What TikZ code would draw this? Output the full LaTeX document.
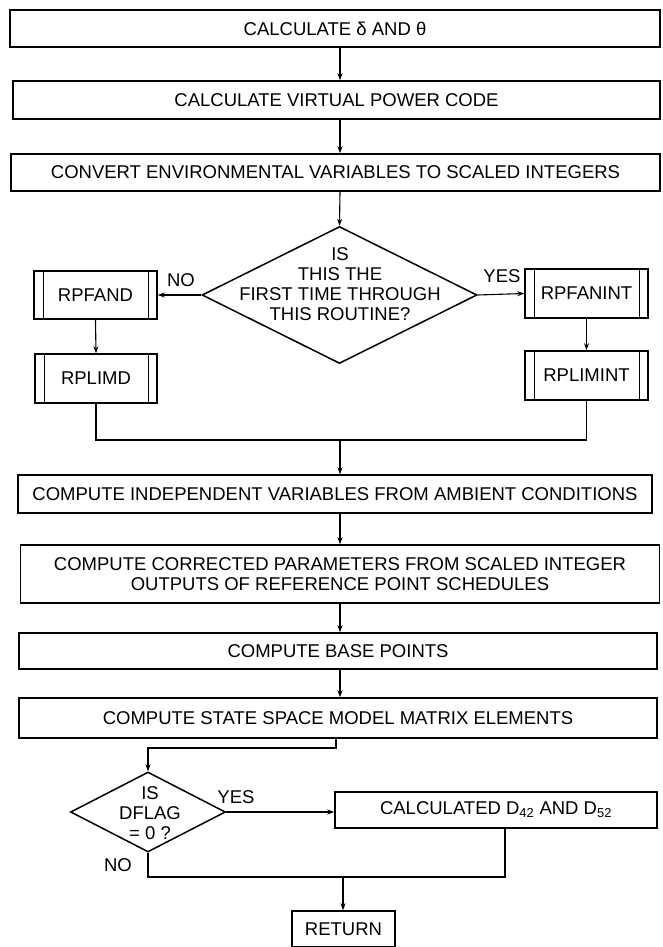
\documentclass[tikz,border=0pt]{standalone}
\usepackage{fontspec}
\setmainfont{Liberation Sans}
\usetikzlibrary{arrows.meta,shapes.geometric}
\begin{document}
\begin{tikzpicture}[x=1pt,y=-1pt,
  font=\fontsize{18.5}{20}\selectfont,
  box/.style={draw,line width=1.5pt,inner sep=0pt,align=center},
  decision/.style={draw,diamond,line width=1.5pt,inner sep=0pt},
  flow/.style={line width=1.1pt,-{Stealth[length=7pt,width=5pt]}},
  link/.style={line width=1.1pt},
  lbl/.style={inner sep=0pt,align=center}]
\useasboundingbox (0,0) rectangle (662,947);

% main column of process boxes
\node[box,minimum width=650pt,minimum height=37pt] (b1) at (335,28.5) {CALCULATE δ AND θ};
\node[box,minimum width=647pt,minimum height=38pt] (b2) at (336.5,100) {CALCULATE VIRTUAL POWER CODE};
\node[box,minimum width=649pt,minimum height=37pt] (b3) at (335.5,172.5) {CONVERT ENVIRONMENTAL VARIABLES TO SCALED INTEGERS};

% first decision
\node[decision,minimum width=275pt,minimum height=137pt] (d1) at (339.5,295) {};
\node[lbl] (q1) at (340,284) {IS\\THIS THE\\FIRST TIME THROUGH\\THIS ROUTINE?};
\node[lbl] (no1) at (181,280) {NO};
\node[lbl] (yes1) at (502,276) {YES};

% predefined subroutines
\node[box,minimum width=123pt,minimum height=48pt] (rfand) at (95.5,295) {RPFAND};
\node[box,minimum width=122pt,minimum height=49pt] (rlimd) at (96,378.5) {RPLIMD};
\node[box,minimum width=123pt,minimum height=49pt] (rfanint) at (586.5,293.5) {RPFANINT};
\node[box,minimum width=123pt,minimum height=49pt] (rlimint) at (586.5,375.5) {RPLIMINT};
\foreach \s in {rfand,rlimd,rfanint,rlimint}{
  \draw[line width=1.2pt] ([xshift=10pt]\s.north west) -- ([xshift=10pt]\s.south west);
  \draw[line width=1.2pt] ([xshift=-9pt]\s.north east) -- ([xshift=-9pt]\s.south east);
}

\node[box,minimum width=634pt,minimum height=38pt] (b4) at (335,494) {COMPUTE INDEPENDENT VARIABLES FROM AMBIENT CONDITIONS};
\node[box,minimum width=639pt,minimum height=58pt] (b5) at (340,574) {COMPUTE CORRECTED PARAMETERS FROM SCALED INTEGER\\OUTPUTS OF REFERENCE POINT SCHEDULES};
\node[box,minimum width=638pt,minimum height=36pt] (b6) at (338,651) {COMPUTE BASE POINTS};
\node[box,minimum width=638pt,minimum height=40pt] (b7) at (338,718) {COMPUTE STATE SPACE MODEL MATRIX ELEMENTS};

% second decision
\node[decision,minimum width=155pt,minimum height=80pt] (d2) at (148,812) {};
\node[lbl] (q2) at (150,813) {IS\\DFLAG\\= 0 ?};
\node[lbl] (yes2) at (236,797) {YES};
\node[lbl] (no2) at (118,865) {NO};
\node[box,minimum width=322pt,minimum height=36pt] (b8) at (496,810) {CALCULATED D\textsubscript{42} AND D\textsubscript{52}};
\node[box,minimum width=103pt,minimum height=36pt] (ret) at (343.5,929) {RETURN};

% connectors
\coordinate (axis) at (340,0);
\draw[flow] (b1.south -| axis) -- (b2.north -| axis);
\draw[flow] (b2.south -| axis) -- (b3.north -| axis);
\draw[flow] (b3.south -| axis) -- (d1.north);
\draw[flow] (d1.west) -- (rfand.east);
\draw[flow] (d1.east) -- (rfanint.west);
\draw[flow] (rfand.south) -- (rlimd.north);
\draw[flow] (rfanint.south) -- (rlimint.north);
\coordinate (merge) at (340,440);
\draw[link] (rlimd.south) -- (rlimd.south |- merge) -- (rlimint.south |- merge) -- (rlimint.south);
\draw[flow] (merge) -- (b4.north -| merge);
\draw[flow] (b4.south -| axis) -- (b5.north -| axis);
\draw[flow] (b5.south -| axis) -- (b6.north -| axis);
\draw[flow] (b6.south -| axis) -- (b7.north -| axis);
\coordinate (bend) at (336,748);
\draw[flow] (b7.south -| bend) -- (bend) -| (d2.north);
\draw[flow] (d2.east) -- (b8.west |- d2.east);
\coordinate (join) at (505,877);
\coordinate (drop) at (343,877);
\draw[link] (d2.south) |- (join) -- (b8.south -| join);
\draw[flow] (drop) -- (ret.north -| drop);
\end{tikzpicture}
\end{document}
